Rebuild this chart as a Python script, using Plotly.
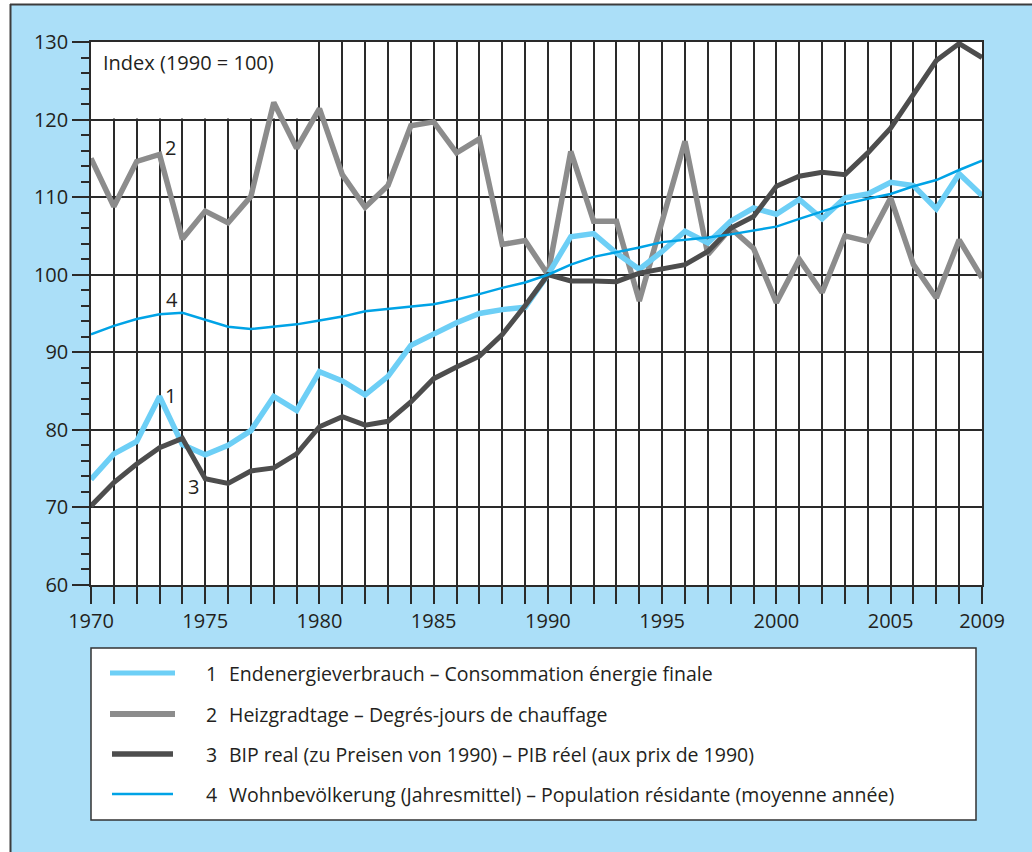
import plotly.graph_objects as go

years = list(range(1970, 2010))

energy = [73.6, 76.9, 78.5, 84.3, 78.1, 76.8, 78.0, 79.9, 84.3, 82.5,
          87.5, 86.3, 84.5, 86.9, 90.9, 92.3, 93.8, 95.0, 95.5, 95.8,
          100.0, 104.9, 105.3, 102.8, 100.7, 103.0, 105.6, 104.1, 106.9, 108.6,
          107.8, 109.7, 107.2, 109.9, 110.4, 111.9, 111.5, 108.5, 113.0, 110.2]

hdd = [115.0, 108.8, 114.6, 115.5, 104.6, 108.2, 106.7, 110.1, 122.2, 116.3,
       121.4, 112.9, 108.7, 111.5, 119.2, 119.7, 115.7, 117.5, 103.9, 104.4,
       100.0, 115.9, 106.9, 106.9, 96.6, 106.6, 117.2, 102.6, 106.0, 103.4,
       96.4, 102.0, 97.7, 105.0, 104.3, 109.9, 101.3, 97.0, 104.5, 99.6]

gdp = [70.2, 73.2, 75.6, 77.7, 78.9, 73.7, 73.1, 74.7, 75.1, 76.9,
       80.4, 81.7, 80.6, 81.1, 83.6, 86.6, 88.1, 89.5, 92.3, 96.0,
       100.0, 99.2, 99.2, 99.1, 100.2, 100.7, 101.3, 103.0, 106.0, 107.5,
       111.4, 112.7, 113.2, 112.9, 115.7, 118.9, 123.2, 127.6, 129.8, 128.0]

population = [92.3, 93.4, 94.3, 94.9, 95.1, 94.2, 93.3, 93.0, 93.3, 93.6,
              94.1, 94.6, 95.3, 95.6, 95.9, 96.2, 96.8, 97.5, 98.3, 99.0,
              100.0, 101.3, 102.3, 102.9, 103.5, 104.2, 104.5, 104.8, 105.2, 105.7,
              106.2, 107.2, 108.2, 109.1, 109.8, 110.4, 111.4, 112.2, 113.5, 114.7]

x_labels = {1970: "1970", 1975: "1975", 1980: "1980", 1985: "1985", 1990: "1990",
            1995: "1995", 2000: "2000", 2005: "2005", 2009: "2009"}
y_ticks = [60, 70, 80, 90, 100, 110, 120, 130]

series_names = [
    "Endenergieverbrauch – Consommation énergie finale",
    "Heizgradtage – Degrés-jours de chauffage",
    "BIP real (zu Preisen von 1990) – PIB réel (aux prix de 1990)",
    "Wohnbevölkerung (Jahresmittel) – Population résidante (moyenne année)",
]

C_ENERGY = "#6dcff6"
C_HDD = "#8c8c8c"
C_GDP = "#4d4d4d"
C_POP = "#00a3e6"
BG = "#abdff8"
GRID = "#2a2a2a"
TXT = "#231f20"
FONT = "Open Sans"

W, H = 1032, 852
L, R, T, B = 91, 982, 42, 585


def px(xp):
    return (xp - L) / (R - L)


def py(yp):
    return (B - yp) / (B - T)


fig = go.Figure()
order = [(hdd, C_HDD, 5.5, series_names[1]),
         (energy, C_ENERGY, 5.5, series_names[0]),
         (gdp, C_GDP, 5, series_names[2]),
         (population, C_POP, 2.5, series_names[3])]
for vals, col, w, name in order:
    fig.add_trace(go.Scatter(x=years, y=vals, mode="lines", name=name,
                             line=dict(color=col, width=w), showlegend=False,
                             hoverinfo="skip"))

shapes = []
# white box behind the "Index" label (hides vertical grid)
shapes.append(dict(type="rect", xref="x", yref="y", x0=1969.9, x1=1979.93,
                   y0=120.13, y1=130.5, fillcolor="white", line=dict(width=0),
                   layer="between"))
# white margins outside the frame
shapes.append(dict(type="rect", xref="paper", yref="paper", x0=px(-20), x1=px(10),
                   y0=py(870), y1=py(-20), fillcolor="white", line=dict(width=0),
                   layer="above"))
shapes.append(dict(type="rect", xref="paper", yref="paper", x0=px(-20), x1=px(1050),
                   y0=py(4), y1=py(-20), fillcolor="white", line=dict(width=0),
                   layer="above"))
# outer frame (left/top)
shapes.append(dict(type="line", xref="paper", yref="paper", x0=px(10), x1=px(1040),
                   y0=py(4.5), y1=py(4.5), line=dict(color="#3c3c3c", width=2)))
shapes.append(dict(type="line", xref="paper", yref="paper", x0=px(10.5), x1=px(10.5),
                   y0=py(4), y1=py(860), line=dict(color="#3c3c3c", width=2)))
# legend box
shapes.append(dict(type="rect", xref="paper", yref="paper", x0=px(91), x1=px(976),
                   y0=py(820), y1=py(648), fillcolor="white",
                   line=dict(color="#333333", width=1.5)))

annotations = []
row_y = [673, 714, 754, 794]
samples = [(C_ENERGY, 5, 110, 175), (C_HDD, 6, 110, 175),
           (C_GDP, 5.5, 112, 173), (C_POP, 2.5, 112, 173)]
for i, (col, w, xa, xb) in enumerate(samples):
    shapes.append(dict(type="line", xref="paper", yref="paper", x0=px(xa), x1=px(xb),
                       y0=py(row_y[i]), y1=py(row_y[i]), line=dict(color=col, width=w)))
    annotations.append(dict(xref="paper", yref="paper", x=px(204), y=py(row_y[i]),
                            text=str(i + 1), showarrow=False, xanchor="left",
                            yanchor="middle", font=dict(size=19.5, color=TXT, family=FONT)))
    annotations.append(dict(xref="paper", yref="paper", x=px(227), y=py(row_y[i]),
                            text=series_names[i], showarrow=False, xanchor="left",
                            yanchor="middle", font=dict(size=19.5, color=TXT, family=FONT)))

# in-plot labels
for txt, xv, yv in [("2", 1973.47, 116.4), ("4", 1973.55, 96.8),
                    ("1", 1973.47, 84.4), ("3", 1974.47, 72.7)]:
    annotations.append(dict(xref="x", yref="y", x=xv, y=yv, text=txt, showarrow=False,
                            xanchor="center", yanchor="middle",
                            font=dict(size=20, color=TXT, family=FONT)))
annotations.append(dict(xref="x", yref="y", x=1970.42, y=127.4, text="Index (1990 = 100)",
                        showarrow=False, xanchor="left", yanchor="middle",
                        font=dict(size=20, color=TXT, family=FONT)))

fig.update_layout(
    width=W, height=H,
    margin=dict(l=L, r=W - R, t=T, b=H - B, pad=0),
    paper_bgcolor=BG, plot_bgcolor="white",
    font=dict(family=FONT, size=20, color=TXT),
    shapes=shapes, annotations=annotations,
    showlegend=False,
    xaxis=dict(range=[1970, 2009], tickvals=years,
               ticktext=[x_labels.get(y, "") for y in years],
               showgrid=True, gridcolor=GRID, gridwidth=1.5,
               ticks="outside", ticklen=17, tickwidth=1.5, tickcolor=GRID,
               showline=True, linecolor=GRID, linewidth=1.5, mirror=True,
               zeroline=False, tickfont=dict(size=20, color=TXT, family=FONT),
               fixedrange=True),
    yaxis=dict(range=[60, 130], tickvals=y_ticks,
               showgrid=True, gridcolor=GRID, gridwidth=1.5,
               ticks="outside", ticklen=17, tickwidth=1.5, tickcolor=GRID,
               minor=dict(dtick=2, tick0=60, ticks="outside", ticklen=8,
                          tickwidth=1.5, tickcolor=GRID, showgrid=False),
               showline=True, linecolor=GRID, linewidth=1.5, mirror=True,
               zeroline=False, tickfont=dict(size=20, color=TXT, family=FONT),
               fixedrange=True),
)

fig.write_html("out.html", config={"displayModeBar": False},
               post_script="document.body.style.margin='0';document.body.style.overflow='hidden';")
